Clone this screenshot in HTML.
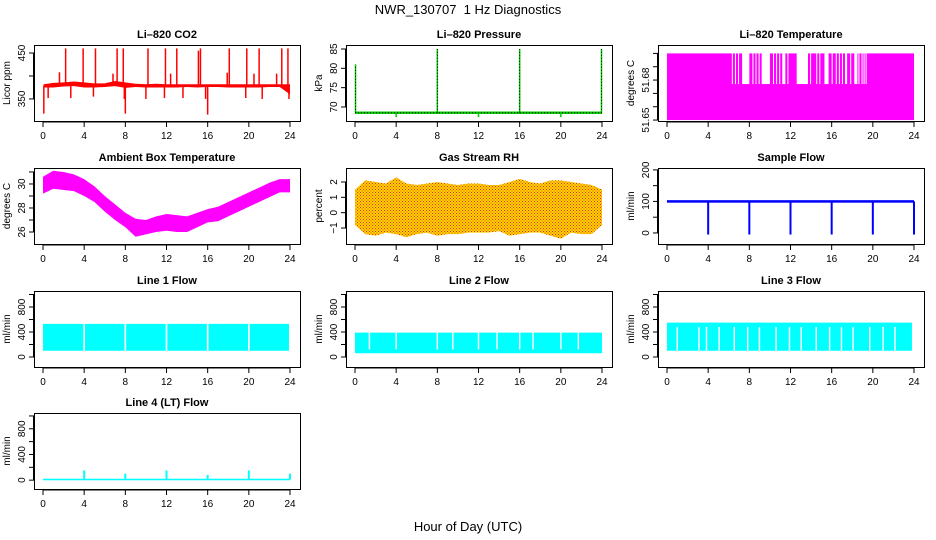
<!DOCTYPE html>
<html><head><meta charset="utf-8"><style>
html,body{margin:0;padding:0;background:#fff;}
svg{display:block;font-family:"Liberation Sans",Arial,sans-serif;}
</style></head><body>
<svg id="c" width="936" height="540" viewBox="0 0 936 540" xmlns="http://www.w3.org/2000/svg">
<rect width="936" height="540" fill="#fff"/>
<text x="468" y="14" font-size="13" text-anchor="middle">NWR_130707&#160; 1 Hz Diagnostics</text>
<text x="468" y="531" font-size="13" text-anchor="middle">Hour of Day (UTC)</text>
</svg>
<script>
// ---- data ----
const hourTicks=[0,4,8,12,16,20,24];
const hours=[0,1,2,3,4,5,6,7,8,9,10,11,12,13,14,15,16,17,18,19,20,21,22,23,24];
const co2Max=[382,385,386,388,386,384,384,389,386,383,382,383,382,382,382,382,382,382,382,382,382,382,382,382,382];
const co2Min=[375,375,377,378,375,375,376,378,374,376,375,375,375,375,376,375,376,376,375,375,375,375,376,376,360];
const co2SpikeH=[2.2,3.9,5.1,7.2,7.8,10.2,11.9,13.0,15.1,15.3,18.1,19.8,21.0,23.2,23.8,1.6,6.8,12.4,17.9,20.5,22.7];
const co2SpikeV=[460,460,460,460,460,460,460,460,455,460,460,460,460,460,460,408,405,405,407,405,405];
const co2DipH=[0.08,8.0,16.0,0.5,2.7,4.9,7.9,10.0,11.8,13.6,15.8,19.7,21.3,23.9];
const co2DipV=[318,318,316,352,352,355,350,350,352,352,350,352,350,350];
const presBase=68.5;
const presSpikeH=[0.05,8.0,16.0,23.95,4.0,12.0,20.0];
const presSpikeV=[81,85,85,85,67.4,67.4,67.4];
const tempHigh=51.70, tempLow=51.65, tempMid=51.677;
const tempGapStart=[6.3,6.6,6.9,7.3,8.3,8.6,8.9,9.2,10.3,10.6,10.9,11.2,11.7,12.6,13.9,14.5,14.8,15.3,16.0,16.4,16.7,17.0,17.3,17.8,18.2,18.6,18.9,19.1,19.3];
const tempGapEnd=[6.4,6.7,7.0,8.0,8.4,8.7,9.0,10.0,10.4,10.7,11.0,11.5,11.8,13.7,14.0,14.6,14.9,15.7,16.1,16.5,16.8,17.1,17.5,17.9,18.5,18.7,19.0,19.2,19.4];
const ambMax=[30.6,31.1,31.0,30.8,30.4,29.8,29.0,28.3,27.6,27.1,27.0,27.3,27.5,27.4,27.3,27.6,27.9,28.1,28.5,28.9,29.3,29.7,30.1,30.4,30.4];
const ambMin=[29.2,29.6,29.5,29.4,29.0,28.5,27.7,27.0,26.4,25.6,25.8,26.0,26.1,26.0,26.0,26.4,26.8,26.9,27.3,27.7,28.1,28.5,28.9,29.3,29.3];
const rhMax=[1.5,2.1,2.0,1.9,2.3,1.9,1.8,1.9,2.0,1.9,1.8,1.9,1.9,1.8,1.8,2.0,2.2,2.0,1.9,2.1,2.1,2.0,1.9,1.8,1.5];
const rhMin=[-0.8,-1.4,-1.5,-1.3,-1.4,-1.6,-1.4,-1.3,-1.5,-1.4,-1.4,-1.3,-1.3,-1.3,-1.2,-1.5,-1.4,-1.3,-1.3,-1.5,-1.7,-1.3,-1.4,-1.4,-0.8];
const sampleBase=100;
const sampleDipH=[4,8,12,16,20,24];
const sampleDipV=[-5,-5,-5,-5,-5,-5];
const line1Lo=100, line1Hi=530;
const line1Gaps=[4,8,12,16,20];
const line2Lo=60, line2Hi=390;
const line2Gaps=[4,8,12,16,20,1.4,9.5,13.8,17.3,21.7];
const line3Lo=100, line3Hi=550;
const line3Gaps=[1.0,3.1,3.84,5.07,6.54,7.84,8.98,10.6,11.9,13.04,14.5,15.8,16.95,18.08,19.7,21.0,22.15];
const line4Base=10;
const line4SpikeH=[4,8,12,16,20,24];
const line4SpikeV=[150,100,150,80,150,100];

// ---- drawing ----
const svg=document.getElementById('c');
const NS='http://www.w3.org/2000/svg';
function E(tag,attrs,parent){const e=document.createElementNS(NS,tag);for(const k in attrs)e.setAttribute(k,attrs[k]);(parent||svg).appendChild(e);return e;}
const cols=[34,346,658], rows=[45,168,291,413], H=76, W=266;
function panel(name,title,ylab,col,row,ymin,ymax,ticks,labels){
  const L=cols[col],T=rows[row];
  const g=E('g',{});
  
  
  const p={g,L,T,
    x:h=>L+9+h/24*(W-19),
    y:v=>T+H-(v-ymin)/(ymax-ymin)*H};
  const t=E('text',{x:L+W/2,y:T-7,'font-size':11,'font-weight':'bold','text-anchor':'middle'},g);
  t.textContent=title;
  
  
  const yl=E('text',{transform:`translate(${L-24},${T+H/2}) rotate(-90)`,'font-size':10,'text-anchor':'middle'},g);
  yl.textContent=ylab;
  
  
  const ax=E('g',{stroke:'#000','stroke-width':1,fill:'none'},g);
  
  
  const y0=p.y(ticks[0]),y1=p.y(ticks[ticks.length-1]);
  E('line',{x1:L-0.5,x2:L-0.5,y1:y0,y2:y1},ax);
  ticks.forEach((v,i)=>{const yy=p.y(v);E('line',{x1:L-5,x2:L,y1:yy,y2:yy},ax);
    if(labels[i]!==''){const tl=E('text',{transform:`translate(${L-9},${yy}) rotate(-90)`,'font-size':10,'text-anchor':'middle',stroke:'none',fill:'#000'},g);tl.textContent=labels[i];
      
      }});
  const xb=T+H+1;
  E('line',{x1:p.x(0),x2:p.x(24),y1:xb,y2:xb},ax);
  hourTicks.forEach(h=>{const xx=p.x(h);E('line',{x1:xx,x2:xx,y1:xb,y2:xb+5},ax);
    const tl=E('text',{x:xx,y:xb+17,'font-size':10,'text-anchor':'middle',stroke:'none',fill:'#000'},g);tl.textContent=h;
    
    });
  p.marks=E('g',{},g);
  
  
  p.finish=()=>{const b=E('rect',{x:L+0.5,y:T+0.5,width:W,height:H,fill:'none',stroke:'#000'},g);
    
    };
  return p;
}
function band(p,xs,hi,lo,fill){let d='M'+xs.map((h,i)=>p.x(h)+','+p.y(hi[i])).join('L');
  for(let i=xs.length-1;i>=0;i--)d+='L'+p.x(xs[i])+','+p.y(lo[i]);E('path',{d:d+'Z',fill},p.marks);}
function vline(p,h,v0,v1,c,w,dash){const a={x1:p.x(h),x2:p.x(h),y1:p.y(v0),y2:p.y(v1),stroke:c,'stroke-width':w||1.5};if(dash)a['stroke-dasharray']=dash;E('line',a,p.marks);}
function rectV(p,h0,h1,v0,v1,c){E('rect',{x:p.x(h0),y:p.y(v1),width:p.x(h1)-p.x(h0),height:p.y(v0)-p.y(v1),fill:c},p.marks);}

// CO2
let p=panel('co2','Li\u2013820 CO2','Licor ppm',0,0,302,467.4,[350,400,450],['350','','450']);
band(p,hours.map((h,i)=>i==0?0.05:h),co2Max,co2Min,'#f00');
co2SpikeH.forEach((h,i)=>vline(p,h,380,co2SpikeV[i],'#f00',1.5));
co2DipH.forEach((h,i)=>vline(p,h,378,co2DipV[i],'#f00',1.5));
p.finish();
// Pressure
p=panel('pressure','Li\u2013820 Pressure','kPa',1,0,66.38,86.03,[70,75,80,85],['70','75','80','85']);
E('line',{x1:p.x(0),x2:p.x(24),y1:p.y(presBase),y2:p.y(presBase),stroke:'#0c0','stroke-width':2.5},p.marks);
E('line',{x1:p.x(0),x2:p.x(24),y1:p.y(presBase),y2:p.y(presBase),stroke:'#000','stroke-width':1,'stroke-dasharray':'1,2'},p.marks);
presSpikeH.forEach((h,i)=>{vline(p,h,presBase,presSpikeV[i],'#0c0',1.5);if(presSpikeV[i]>80)vline(p,h,presBase,presSpikeV[i],'#000',1,'1,2');});
p.finish();
// Li temp
p=panel('li-temp','Li\u2013820 Temperature','degrees C',2,0,51.6493,51.7063,[51.65,51.66,51.67,51.68,51.69,51.70],['51.65','','','51.68','','']);
rectV(p,0,24,tempLow,tempHigh,'#f0f');
tempGapStart.forEach((s,i)=>rectV(p,s,tempGapEnd[i],tempMid,tempHigh+0.001,'#fff'));
p.finish();
// Ambient
p=panel('ambient','Ambient Box Temperature','degrees C',0,1,25.0,31.33,[26,27,28,29,30,31],['26','','28','','30','']);
band(p,hours,ambMax,ambMin,'#f0f');
p.finish();
// RH
p=panel('rh','Gas Stream RH','percent',1,1,-2.04,2.91,[-1,0,1,2],['\u22121','0','1','2']);
const defs=E('defs',{});
const pat=E('pattern',{id:'rhpat',width:3,height:3,patternUnits:'userSpaceOnUse'},defs);
E('rect',{width:3,height:3,fill:'#ffd500'},pat);
E('rect',{x:0,y:0,width:1,height:1,fill:'#e0301a'},pat);
E('rect',{x:1.5,y:1.5,width:1,height:1,fill:'#e0301a'},pat);
band(p,hours,rhMax,rhMin,'url(#rhpat)');
p.finish();
// Sample flow
p=panel('sample-flow','Sample Flow','ml/min',2,1,-35,206,[0,50,100,150,200],['0','','100','','200']);
rectV(p,0,24,sampleBase-4,sampleBase+4,'#00f');
sampleDipH.forEach((h,i)=>vline(p,h,sampleBase,sampleDipV[i],'#00f',2));
p.finish();
// Line flows
const ft=[0,200,400,600,800,1000],fl=['0','','400','','800',''];
p=panel('line1-flow','Line 1 Flow','ml/min',0,2,-160,1056,ft,fl);
rectV(p,0,23.9,line1Lo,line1Hi,'#0ff');
line1Gaps.forEach(h=>rectV(p,h-0.08,h+0.08,line1Lo-10,line1Hi+10,'#fff'));
p.finish();
p=panel('line2-flow','Line 2 Flow','ml/min',1,2,-160,1056,ft,fl);
rectV(p,0,24,line2Lo,line2Hi,'#0ff');
line2Gaps.forEach(h=>rectV(p,h-0.07,h+0.07,line2Lo+60,line2Hi+10,'#fff'));
p.finish();
p=panel('line3-flow','Line 3 Flow','ml/min',2,2,-160,1056,ft,fl);
rectV(p,0,23.8,line3Lo,line3Hi,'#0ff');
line3Gaps.forEach(h=>rectV(p,h-0.07,h+0.07,line3Lo,line3Hi-70,'#fff'));
p.finish();
p=panel('line4-flow','Line 4 (LT) Flow','ml/min',0,3,-138,1046,ft,fl);
rectV(p,0,24,line4Base-12,line4Base+12,'#0ff');
line4SpikeH.forEach((h,i)=>vline(p,h,line4Base,line4SpikeV[i],'#0ff',2));
p.finish();
</script>
</body></html>
